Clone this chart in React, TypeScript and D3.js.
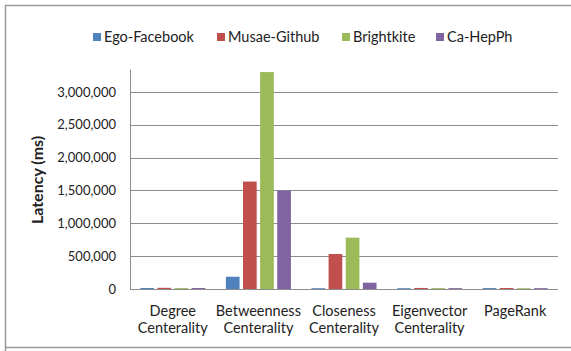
import { useEffect, useRef } from 'react';
import * as d3 from 'd3';

const categories = [
  ['Degree', 'Centerality'],
  ['Betweenness', 'Centerality'],
  ['Closeness', 'Centerality'],
  ['Eigenvector', 'Centerality'],
  ['PageRank'],
];
const seriesNames = ['Ego-Facebook', 'Musae-Github', 'Brightkite', 'Ca-HepPh'];
const colors = ['#4F81BD', '#C0504D', '#9BBB59', '#8064A2'];

const egoFacebook = [15000, 187000, 12000, 12000, 14000];
const musaeGithub = [18000, 1636000, 533000, 16000, 15000];
const brightkite = [14000, 3303000, 782000, 14000, 12000];
const caHepPh = [15000, 1500000, 96000, 13000, 13000];
const seriesValues = [egoFacebook, musaeGithub, brightkite, caHepPh];

const yTicks = [0, 500000, 1000000, 1500000, 2000000, 2500000, 3000000];

const FONT = 'Lato, "Open Sans", sans-serif';

export default function App() {
  const ref = useRef<SVGSVGElement>(null);

  useEffect(() => {
    document.body.style.margin = '0';
    if (!ref.current) return;
    const svg = d3.select(ref.current);
    svg.selectAll('*').remove();

    const W = 571;
    const H = 351;

    // chart frame
    svg.append('rect').attr('width', W).attr('height', H).attr('fill', '#fff');
    svg.append('path')
      .attr('d', `M5.5,${H} L5.5,5.5 L${W},5.5 M5.5,347.5 L${W},347.5`)
      .attr('fill', 'none')
      .attr('stroke', '#9a9a9a')
      .attr('stroke-width', 1.5);

    const plot = { left: 130, right: 558, top: 69, bottom: 289 };

    const x = d3.scaleBand<number>()
      .domain(d3.range(categories.length))
      .range([plot.left, plot.right]);

    const xs = d3.scaleBand<number>()
      .domain(d3.range(seriesNames.length))
      .range([0, x.bandwidth()])
      .paddingInner(0.2)
      .paddingOuter(0.6);

    const y = d3.scaleLinear()
      .domain([0, 3350000])
      .range([plot.bottom, plot.top]);

    // gridlines
    svg.append('g')
      .selectAll('line')
      .data(yTicks.filter(d => d > 0))
      .join('line')
      .attr('x1', plot.left)
      .attr('x2', plot.right)
      .attr('y1', d => Math.round(y(d)) + 0.5)
      .attr('y2', d => Math.round(y(d)) + 0.5)
      .attr('stroke', '#8c8c8c')
      .attr('stroke-width', 1);

    // y axis
    const yAxis = svg.append('g')
      .attr('transform', `translate(${plot.left},0)`)
      .call(d3.axisLeft(y).tickValues(yTicks).tickSize(0).tickPadding(14).tickFormat(d3.format(',')));
    yAxis.select('.domain').attr('stroke', '#8c8c8c');
    yAxis.selectAll('text')
      .attr('font-family', FONT)
      .attr('font-size', 13)
      .attr('fill', '#222');

    // bars
    seriesValues.forEach((vals, si) => {
      svg.append('g')
        .selectAll('rect')
        .data(vals)
        .join('rect')
        .attr('x', (_, i) => (x(i) ?? 0) + (xs(si) ?? 0))
        .attr('width', xs.bandwidth())
        .attr('y', d => y(d))
        .attr('height', d => y(0) - y(d))
        .attr('fill', colors[si]);
    });

    // x axis line
    svg.append('line')
      .attr('x1', plot.left)
      .attr('x2', plot.right)
      .attr('y1', plot.bottom + 0.5)
      .attr('y2', plot.bottom + 0.5)
      .attr('stroke', '#8c8c8c');

    // x labels
    categories.forEach((lines, i) => {
      const t = svg.append('text')
        .attr('x', (x(i) ?? 0) + x.bandwidth() / 2)
        .attr('y', 315.5)
        .attr('text-anchor', 'middle')
        .attr('font-family', FONT)
        .attr('font-size', 14.5)
        .attr('fill', '#222');
      lines.forEach((l, li) => {
        t.append('tspan')
          .attr('x', (x(i) ?? 0) + x.bandwidth() / 2)
          .attr('dy', li === 0 ? 0 : 17.5)
          .text(l);
      });
    });

    // y title
    svg.append('text')
      .attr('transform', `translate(43,180) rotate(-90)`)
      .attr('text-anchor', 'middle')
      .attr('font-family', FONT)
      .attr('font-size', 16)
      .attr('font-weight', 'bold')
      .attr('fill', '#222')
      .text('Latency (ms)');

    // legend
    const legendX = [93, 217, 342, 436];
    const legend = svg.append('g');
    seriesNames.forEach((name, i) => {
      const g = legend.append('g').attr('transform', `translate(${legendX[i]},33)`);
      g.append('rect').attr('width', 8).attr('height', 8).attr('fill', colors[i]);
      g.append('text')
        .attr('x', 11)
        .attr('y', 9)
        .attr('font-family', FONT)
        .attr('font-size', 14.5)
        .attr('fill', '#222')
        .text(name);
    });
  }, []);

  return <svg ref={ref} width={571} height={351} style={{ display: 'block' }} />;
}
